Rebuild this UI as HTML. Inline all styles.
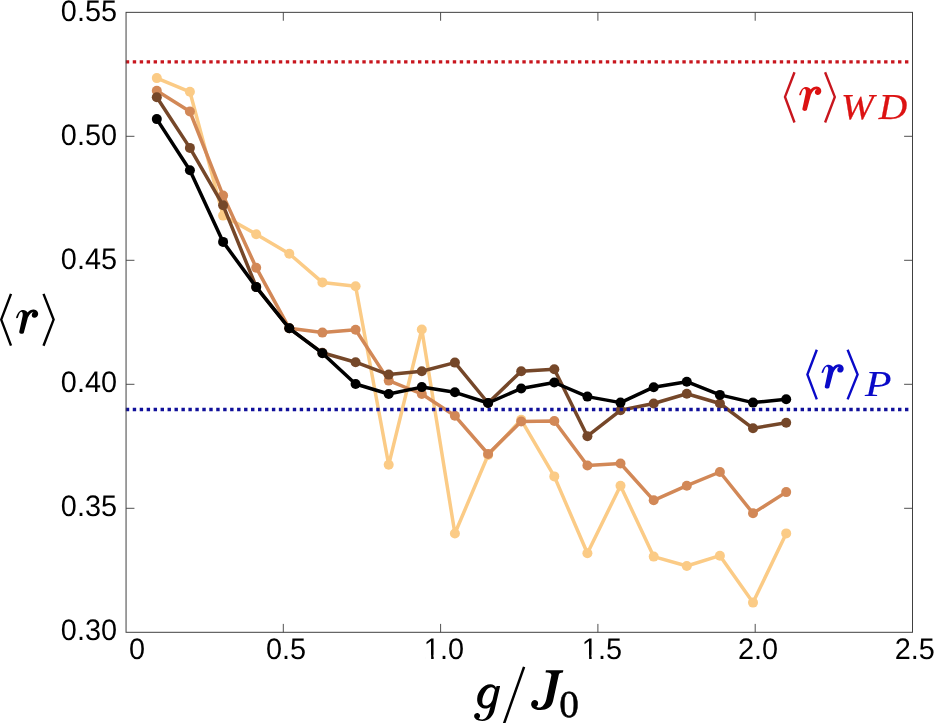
<!DOCTYPE html>
<html><head><meta charset="utf-8"><title>chart</title>
<style>
html,body{margin:0;padding:0;background:#fff;}
text{text-rendering:geometricPrecision;}
body{width:934px;height:723px;overflow:hidden;position:relative;font-family:"Liberation Sans",sans-serif;}
</style></head><body>
<svg width="934" height="723" viewBox="0 0 934 723" style="position:absolute;left:0;top:0;will-change:transform">
<polyline points="156.8,78.1 189.9,91.8 223.1,215.6 256.2,234.2 289.3,253.8 322.4,282.4 355.6,286.3 388.7,464.8 421.8,329.5 454.9,533.5 488.1,455.0 521.2,419.8 554.3,476.4 587.4,553.2 620.5,485.7 653.7,556.6 686.8,566.0 719.9,555.7 753.0,602.6 786.2,533.4" fill="none" stroke="#FBCB86" stroke-width="3.5" stroke-linejoin="round" stroke-linecap="round"/>
<circle cx="156.8" cy="78.1" r="5.0" fill="#FBCB86"/><circle cx="189.9" cy="91.8" r="5.0" fill="#FBCB86"/><circle cx="223.1" cy="215.6" r="5.0" fill="#FBCB86"/><circle cx="256.2" cy="234.2" r="5.0" fill="#FBCB86"/><circle cx="289.3" cy="253.8" r="5.0" fill="#FBCB86"/><circle cx="322.4" cy="282.4" r="5.0" fill="#FBCB86"/><circle cx="355.6" cy="286.3" r="5.0" fill="#FBCB86"/><circle cx="388.7" cy="464.8" r="5.0" fill="#FBCB86"/><circle cx="421.8" cy="329.5" r="5.0" fill="#FBCB86"/><circle cx="454.9" cy="533.5" r="5.0" fill="#FBCB86"/><circle cx="488.1" cy="455.0" r="5.0" fill="#FBCB86"/><circle cx="521.2" cy="419.8" r="5.0" fill="#FBCB86"/><circle cx="554.3" cy="476.4" r="5.0" fill="#FBCB86"/><circle cx="587.4" cy="553.2" r="5.0" fill="#FBCB86"/><circle cx="620.5" cy="485.7" r="5.0" fill="#FBCB86"/><circle cx="653.7" cy="556.6" r="5.0" fill="#FBCB86"/><circle cx="686.8" cy="566.0" r="5.0" fill="#FBCB86"/><circle cx="719.9" cy="555.7" r="5.0" fill="#FBCB86"/><circle cx="753.0" cy="602.6" r="5.0" fill="#FBCB86"/><circle cx="786.2" cy="533.4" r="5.0" fill="#FBCB86"/>

<polyline points="156.8,90.8 189.9,111.5 223.1,195.6 256.2,267.7 289.3,328.3 322.4,332.6 355.6,329.8 388.7,380.6 421.8,394.0 454.9,415.8 488.1,454.0 521.2,421.5 554.3,421.0 587.4,465.5 620.5,463.5 653.7,500.3 686.8,485.7 719.9,472.0 753.0,513.3 786.2,492.1" fill="none" stroke="#D28857" stroke-width="3.5" stroke-linejoin="round" stroke-linecap="round"/>
<circle cx="156.8" cy="90.8" r="5.0" fill="#D28857"/><circle cx="189.9" cy="111.5" r="5.0" fill="#D28857"/><circle cx="223.1" cy="195.6" r="5.0" fill="#D28857"/><circle cx="256.2" cy="267.7" r="5.0" fill="#D28857"/><circle cx="289.3" cy="328.3" r="5.0" fill="#D28857"/><circle cx="322.4" cy="332.6" r="5.0" fill="#D28857"/><circle cx="355.6" cy="329.8" r="5.0" fill="#D28857"/><circle cx="388.7" cy="380.6" r="5.0" fill="#D28857"/><circle cx="421.8" cy="394.0" r="5.0" fill="#D28857"/><circle cx="454.9" cy="415.8" r="5.0" fill="#D28857"/><circle cx="488.1" cy="454.0" r="5.0" fill="#D28857"/><circle cx="521.2" cy="421.5" r="5.0" fill="#D28857"/><circle cx="554.3" cy="421.0" r="5.0" fill="#D28857"/><circle cx="587.4" cy="465.5" r="5.0" fill="#D28857"/><circle cx="620.5" cy="463.5" r="5.0" fill="#D28857"/><circle cx="653.7" cy="500.3" r="5.0" fill="#D28857"/><circle cx="686.8" cy="485.7" r="5.0" fill="#D28857"/><circle cx="719.9" cy="472.0" r="5.0" fill="#D28857"/><circle cx="753.0" cy="513.3" r="5.0" fill="#D28857"/><circle cx="786.2" cy="492.1" r="5.0" fill="#D28857"/>

<polyline points="156.8,97.3 189.9,147.9 223.1,205.3 256.2,286.9 289.3,328.3 322.4,352.8 355.6,362.2 388.7,374.6 421.8,371.2 454.9,362.6 488.1,403.0 521.2,371.2 554.3,369.2 587.4,436.2 620.5,410.3 653.7,403.5 686.8,393.7 719.9,403.5 753.0,428.3 786.2,422.8" fill="none" stroke="#754729" stroke-width="3.5" stroke-linejoin="round" stroke-linecap="round"/>
<circle cx="156.8" cy="97.3" r="5.0" fill="#754729"/><circle cx="189.9" cy="147.9" r="5.0" fill="#754729"/><circle cx="223.1" cy="205.3" r="5.0" fill="#754729"/><circle cx="256.2" cy="286.9" r="5.0" fill="#754729"/><circle cx="289.3" cy="328.3" r="5.0" fill="#754729"/><circle cx="322.4" cy="352.8" r="5.0" fill="#754729"/><circle cx="355.6" cy="362.2" r="5.0" fill="#754729"/><circle cx="388.7" cy="374.6" r="5.0" fill="#754729"/><circle cx="421.8" cy="371.2" r="5.0" fill="#754729"/><circle cx="454.9" cy="362.6" r="5.0" fill="#754729"/><circle cx="488.1" cy="403.0" r="5.0" fill="#754729"/><circle cx="521.2" cy="371.2" r="5.0" fill="#754729"/><circle cx="554.3" cy="369.2" r="5.0" fill="#754729"/><circle cx="587.4" cy="436.2" r="5.0" fill="#754729"/><circle cx="620.5" cy="410.3" r="5.0" fill="#754729"/><circle cx="653.7" cy="403.5" r="5.0" fill="#754729"/><circle cx="686.8" cy="393.7" r="5.0" fill="#754729"/><circle cx="719.9" cy="403.5" r="5.0" fill="#754729"/><circle cx="753.0" cy="428.3" r="5.0" fill="#754729"/><circle cx="786.2" cy="422.8" r="5.0" fill="#754729"/>

<line x1="125.8" y1="61.9" x2="911.0" y2="61.9" stroke="#C8161E" stroke-width="3.4" stroke-dasharray="3.4 3.557"/>

<line x1="125.8" y1="409.5" x2="911.0" y2="409.5" stroke="#10109A" stroke-width="3.4" stroke-dasharray="3.4 3.557"/>

<polyline points="156.8,119.1 189.9,170.2 223.1,241.9 256.2,287.1 289.3,328.3 322.4,353.2 355.6,384.0 388.7,394.0 421.8,387.1 454.9,392.3 488.1,403.0 521.2,388.5 554.3,382.5 587.4,396.6 620.5,402.6 653.7,387.2 686.8,381.7 719.9,394.9 753.0,402.6 786.2,399.2" fill="none" stroke="#000000" stroke-width="3.5" stroke-linejoin="round" stroke-linecap="round"/>
<circle cx="156.8" cy="119.1" r="5.0" fill="#000000"/><circle cx="189.9" cy="170.2" r="5.0" fill="#000000"/><circle cx="223.1" cy="241.9" r="5.0" fill="#000000"/><circle cx="256.2" cy="287.1" r="5.0" fill="#000000"/><circle cx="289.3" cy="328.3" r="5.0" fill="#000000"/><circle cx="322.4" cy="353.2" r="5.0" fill="#000000"/><circle cx="355.6" cy="384.0" r="5.0" fill="#000000"/><circle cx="388.7" cy="394.0" r="5.0" fill="#000000"/><circle cx="421.8" cy="387.1" r="5.0" fill="#000000"/><circle cx="454.9" cy="392.3" r="5.0" fill="#000000"/><circle cx="488.1" cy="403.0" r="5.0" fill="#000000"/><circle cx="521.2" cy="388.5" r="5.0" fill="#000000"/><circle cx="554.3" cy="382.5" r="5.0" fill="#000000"/><circle cx="587.4" cy="396.6" r="5.0" fill="#000000"/><circle cx="620.5" cy="402.6" r="5.0" fill="#000000"/><circle cx="653.7" cy="387.2" r="5.0" fill="#000000"/><circle cx="686.8" cy="381.7" r="5.0" fill="#000000"/><circle cx="719.9" cy="394.9" r="5.0" fill="#000000"/><circle cx="753.0" cy="402.6" r="5.0" fill="#000000"/><circle cx="786.2" cy="399.2" r="5.0" fill="#000000"/>

<line x1="283.3" y1="632.3" x2="283.3" y2="623.9" stroke="#505050" stroke-width="1.0"/>
<line x1="283.3" y1="12.35" x2="283.3" y2="20.75" stroke="#505050" stroke-width="1.0"/>
<line x1="440.6" y1="632.3" x2="440.6" y2="623.9" stroke="#505050" stroke-width="1.0"/>
<line x1="440.6" y1="12.35" x2="440.6" y2="20.75" stroke="#505050" stroke-width="1.0"/>
<line x1="597.9" y1="632.3" x2="597.9" y2="623.9" stroke="#505050" stroke-width="1.0"/>
<line x1="597.9" y1="12.35" x2="597.9" y2="20.75" stroke="#505050" stroke-width="1.0"/>
<line x1="755.2" y1="632.3" x2="755.2" y2="623.9" stroke="#505050" stroke-width="1.0"/>
<line x1="755.2" y1="12.35" x2="755.2" y2="20.75" stroke="#505050" stroke-width="1.0"/>
<line x1="126.05" y1="508.3" x2="134.45" y2="508.3" stroke="#505050" stroke-width="1.0"/>
<line x1="912.5" y1="508.3" x2="904.1" y2="508.3" stroke="#505050" stroke-width="1.0"/>
<line x1="126.05" y1="384.3" x2="134.45" y2="384.3" stroke="#505050" stroke-width="1.0"/>
<line x1="912.5" y1="384.3" x2="904.1" y2="384.3" stroke="#505050" stroke-width="1.0"/>
<line x1="126.05" y1="260.3" x2="134.45" y2="260.3" stroke="#505050" stroke-width="1.0"/>
<line x1="912.5" y1="260.3" x2="904.1" y2="260.3" stroke="#505050" stroke-width="1.0"/>
<line x1="126.05" y1="136.3" x2="134.45" y2="136.3" stroke="#505050" stroke-width="1.0"/>
<line x1="912.5" y1="136.3" x2="904.1" y2="136.3" stroke="#505050" stroke-width="1.0"/>
<rect x="126.05" y="12.35" width="786.45" height="619.9499999999999" fill="none" stroke="#404040" stroke-width="1.0"/>
<g transform="translate(117.00,20.75) scale(0.972,1)"><text x="0" y="0" text-anchor="end" font-family="Liberation Sans, sans-serif" font-size="29.7" fill="#000">0.55</text></g>
<g transform="translate(117.00,144.74) scale(0.972,1)"><text x="0" y="0" text-anchor="end" font-family="Liberation Sans, sans-serif" font-size="29.7" fill="#000">0.50</text></g>
<g transform="translate(117.00,268.53) scale(0.972,1)"><text x="0" y="0" text-anchor="end" font-family="Liberation Sans, sans-serif" font-size="29.7" fill="#000">0.45</text></g>
<g transform="translate(117.00,391.92) scale(0.972,1)"><text x="0" y="0" text-anchor="end" font-family="Liberation Sans, sans-serif" font-size="29.7" fill="#000">0.40</text></g>
<g transform="translate(117.00,515.91) scale(0.972,1)"><text x="0" y="0" text-anchor="end" font-family="Liberation Sans, sans-serif" font-size="29.7" fill="#000">0.35</text></g>
<g transform="translate(117.00,639.50) scale(0.972,1)"><text x="0" y="0" text-anchor="end" font-family="Liberation Sans, sans-serif" font-size="29.7" fill="#000">0.30</text></g>
<g transform="translate(137.05,658.80) scale(0.972,1)"><text x="0" y="0" text-anchor="middle" font-family="Liberation Sans, sans-serif" font-size="29.7" fill="#000">0</text></g>
<g transform="translate(286.04,658.80) scale(0.972,1)"><text x="0" y="0" text-anchor="middle" font-family="Liberation Sans, sans-serif" font-size="29.7" fill="#000">0.5</text></g>
<g transform="translate(443.93,658.80) scale(0.972,1)"><text x="0" y="0" text-anchor="middle" font-family="Liberation Sans, sans-serif" font-size="29.7" fill="#000">1.0</text><rect x="-19.181" y="-4" width="6.006" height="5" fill="#fff"/><rect x="-10.550" y="-4" width="5.774" height="5" fill="#fff"/></g>
<g transform="translate(601.92,658.80) scale(0.972,1)"><text x="0" y="0" text-anchor="middle" font-family="Liberation Sans, sans-serif" font-size="29.7" fill="#000">1.5</text><rect x="-19.181" y="-4" width="6.006" height="5" fill="#fff"/><rect x="-10.550" y="-4" width="5.774" height="5" fill="#fff"/></g>
<g transform="translate(758.01,658.80) scale(0.972,1)"><text x="0" y="0" text-anchor="middle" font-family="Liberation Sans, sans-serif" font-size="29.7" fill="#000">2.0</text></g>
<g transform="translate(914.80,658.80) scale(0.972,1)"><text x="0" y="0" text-anchor="middle" font-family="Liberation Sans, sans-serif" font-size="29.7" fill="#000">2.5</text></g>
<polyline points="11.0,293.9 1.2,319.6 11.0,345.7" fill="none" stroke="#000" stroke-width="2.4" stroke-linejoin="miter" stroke-linecap="butt"/>
<polyline points="43.5,293.9 53.6,319.6 43.5,345.7" fill="none" stroke="#000" stroke-width="2.4" stroke-linejoin="miter" stroke-linecap="butt"/>
<path d="M 16.08 317.59 C 16.91 314.38 19.13 310.51 22.44 309.96 C 24.38 309.68 26.59 310.51 27.59 312.44 C 29.08 310.51 31.57 309.29 33.78 309.40 C 36.55 309.51 38.32 311.62 38.21 314.10 C 38.10 316.59 36.00 317.98 34.34 317.81 C 32.40 317.59 31.46 316.04 31.85 314.38 C 32.12 313.27 32.95 312.61 33.51 312.28 C 31.85 312.06 29.63 313.83 27.81 317.70 L 23.83 332.63 C 23.55 334.02 20.23 334.29 19.40 332.63 C 19.13 331.80 19.40 330.97 19.68 329.87 L 22.61 316.04 C 23.00 314.10 22.72 311.89 21.34 311.73 C 19.96 311.73 18.85 314.38 17.85 317.81 C 17.47 318.36 15.97 318.53 16.08 317.59 Z" fill="#000"><title>r</title></path>
<polyline points="794.5,72.3 785.0,96.9 794.5,122.5" fill="none" stroke="#C8161E" stroke-width="2.4" stroke-linejoin="miter" stroke-linecap="butt"/>
<polyline points="825.1,72.3 834.8,96.9 825.1,122.5" fill="none" stroke="#C8161E" stroke-width="2.4" stroke-linejoin="miter" stroke-linecap="butt"/>
<path d="M 799.18 94.69 C 800.01 91.48 802.23 87.61 805.54 87.06 C 807.48 86.78 809.69 87.61 810.69 89.54 C 812.18 87.61 814.67 86.39 816.88 86.50 C 819.65 86.61 821.42 88.72 821.31 91.20 C 821.20 93.69 819.10 95.08 817.44 94.91 C 815.50 94.69 814.56 93.14 814.95 91.48 C 815.22 90.37 816.05 89.71 816.61 89.38 C 814.95 89.16 812.73 90.93 810.91 94.80 L 806.93 109.73 C 806.65 111.12 803.33 111.39 802.50 109.73 C 802.23 108.90 802.50 108.07 802.78 106.97 L 805.71 93.14 C 806.10 91.20 805.82 88.99 804.44 88.83 C 803.06 88.83 801.95 91.48 800.95 94.91 C 800.57 95.46 799.07 95.63 799.18 94.69 Z" fill="#DC1212"><title>r</title></path>
<g transform="translate(841.0,119.0) scale(1.08,1)"><text x="0" y="0" font-family="Liberation Serif, serif" font-size="36.5" font-style="italic" fill="#DC1212" stroke="#DC1212" stroke-width="0.25" letter-spacing="4.5">WD</text></g>
<polyline points="816.8,349.7 807.4,374.5 816.8,399.4" fill="none" stroke="#0A0AC8" stroke-width="2.4" stroke-linejoin="miter" stroke-linecap="butt"/>
<polyline points="847.6,349.7 857.6,374.5 847.6,399.4" fill="none" stroke="#0A0AC8" stroke-width="2.4" stroke-linejoin="miter" stroke-linecap="butt"/>
<path d="M 821.58 372.39 C 822.41 369.18 824.63 365.31 827.94 364.76 C 829.88 364.48 832.09 365.31 833.09 367.24 C 834.58 365.31 837.07 364.09 839.28 364.20 C 842.05 364.31 843.82 366.42 843.71 368.90 C 843.60 371.39 841.50 372.78 839.84 372.61 C 837.90 372.39 836.96 370.84 837.35 369.18 C 837.62 368.07 838.45 367.41 839.01 367.08 C 837.35 366.86 835.13 368.63 833.31 372.50 L 829.33 387.43 C 829.05 388.82 825.73 389.09 824.90 387.43 C 824.63 386.60 824.90 385.77 825.18 384.67 L 828.11 370.84 C 828.50 368.90 828.22 366.69 826.84 366.53 C 825.46 366.53 824.35 369.18 823.35 372.61 C 822.97 373.16 821.47 373.33 821.58 372.39 Z" fill="#0A0AC8"><title>r</title></path>
<g transform="translate(865.0,396.0) scale(1.19,1)"><text x="0" y="0" font-family="Liberation Serif, serif" font-size="36.5" font-style="italic" fill="#0A0AC8" stroke="#0A0AC8" stroke-width="0.1">P</text></g>
<path d="M 500.12 685.88 L 494.60 709.80 C 493.30 715.65 489.40 720.98 482.25 720.98 C 477.05 720.98 473.93 718.57 474.12 715.78 C 474.32 713.37 476.40 712.72 477.57 712.92 C 479.32 713.18 480.43 714.67 479.97 716.62 C 479.78 717.60 479.00 718.25 478.67 718.57 C 479.97 719.42 481.60 719.55 482.57 719.42 C 486.15 718.90 488.42 715.00 489.92 708.50 L 490.57 706.55 C 488.75 708.37 486.47 708.82 484.52 708.50 C 479.97 707.85 476.72 703.95 477.18 698.42 C 477.70 691.60 483.55 684.45 490.37 684.32 C 493.30 684.32 495.25 685.75 496.03 687.70 L 496.55 685.88 Z M 494.92 689.97 C 494.27 688.02 492.65 687.05 491.02 687.18 C 486.80 687.37 482.57 694.85 482.25 700.70 C 482.12 703.95 483.55 705.57 485.82 705.57 C 488.75 705.57 491.67 702.65 492.65 699.40 Z" fill="#000" fill-rule="evenodd"><title>g</title></path>
<line x1="502.8" y1="727.0" x2="524.1" y2="666.9" stroke="#000" stroke-width="2.5"/>
<path d="M 545.91 670.30 L 563.33 670.30 L 562.92 672.62 C 560.84 672.78 559.35 673.20 558.85 674.44 L 553.04 700.99 C 551.72 707.21 546.74 710.12 539.69 709.95 C 534.30 709.95 530.98 707.21 531.14 703.89 C 531.31 700.99 533.47 699.75 535.13 699.91 C 537.20 700.16 538.44 701.82 538.11 703.89 C 537.95 705.14 537.20 705.97 536.37 706.63 C 537.61 707.46 539.27 707.63 540.27 707.46 C 543.26 706.80 545.25 703.48 546.33 699.33 L 551.39 675.27 C 551.30 673.61 550.06 672.78 547.15 672.62 L 545.58 672.62 Z" fill="#000"><title>J</title></path>
<g transform="translate(559.2,717.3) scale(1.04,1)"><text x="0" y="0" font-family="Liberation Serif, serif" font-size="37.8" fill="#000" stroke="#000" stroke-width="0.5">0</text></g>
</svg>
</body></html>
